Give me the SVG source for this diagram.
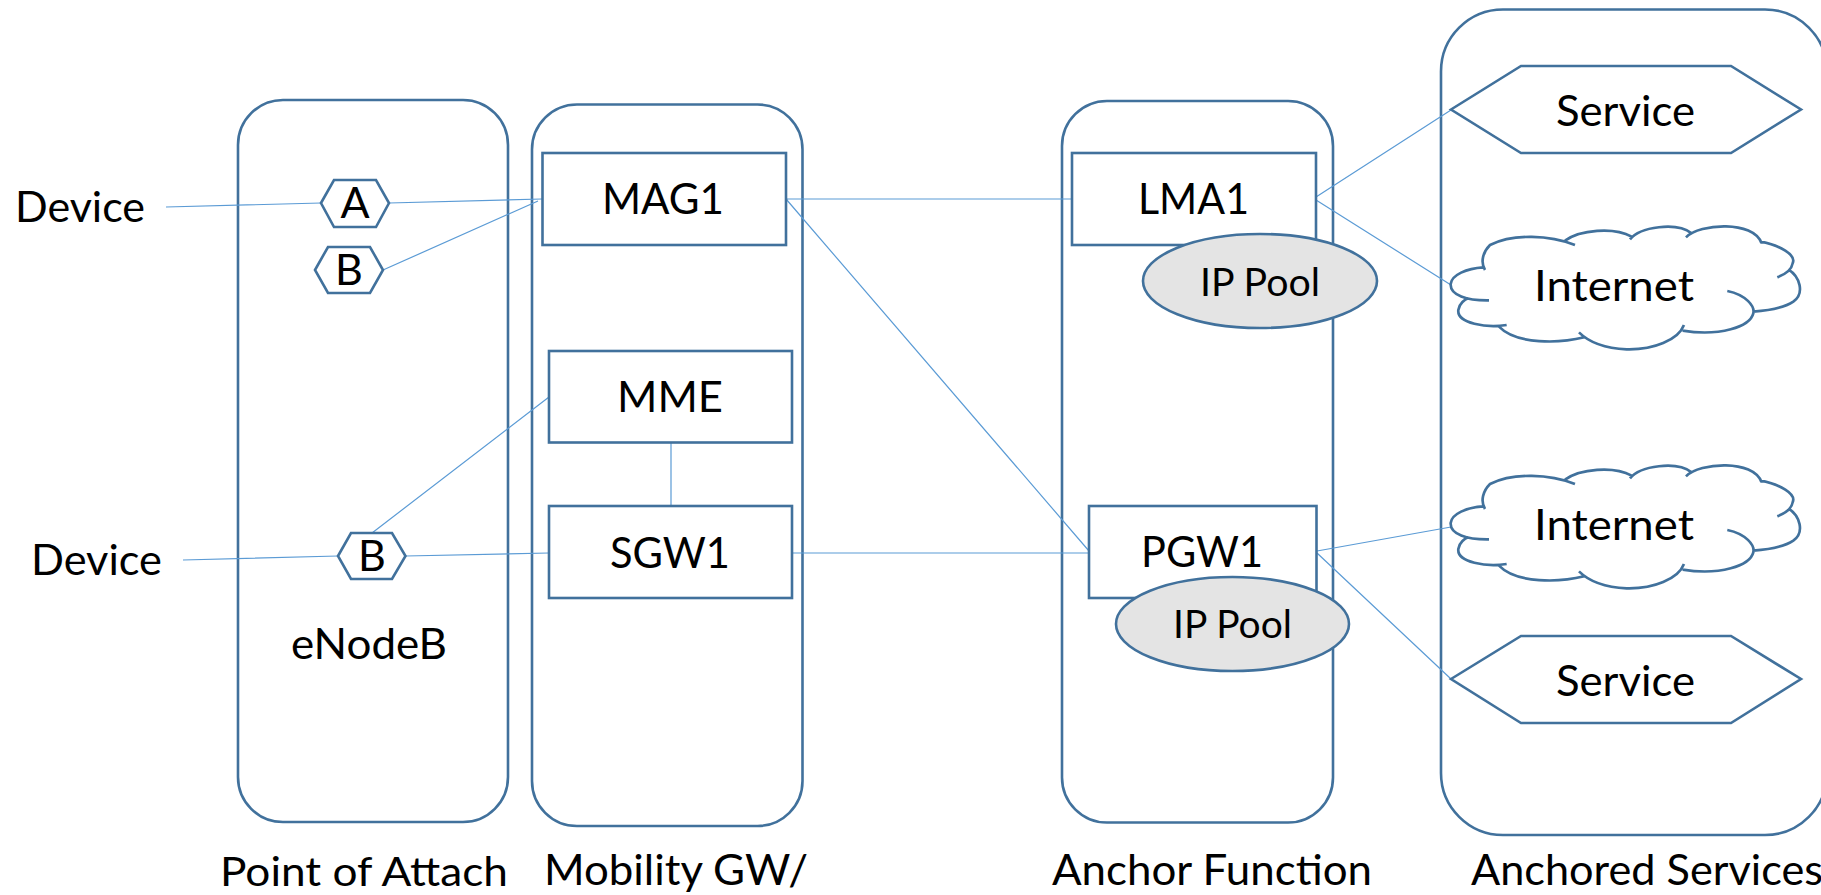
<svg xmlns="http://www.w3.org/2000/svg" width="1821" height="895" viewBox="0 0 1821 895">
<style>
.s{fill:none;stroke:#41719c;stroke-width:2.6}
.w{fill:#fff;stroke:#41719c;stroke-width:2.6}
.p{fill:#e4e4e4;stroke:#41719c;stroke-width:2.6}
.c{stroke:#5b9bd5;stroke-width:1.2;fill:none}
text{font-family:Lato,"Open Sans",sans-serif;font-size:43px;fill:#000}
.ip{font-size:38px}
.poa{font-size:41px}
</style>
<defs>
<g id="cloud" fill="none" stroke="#41719c" stroke-width="8" transform="scale(.3333)">
<path d="M255 270C240 245 250 215 270 195C340 160 450 165 525 195M495 182C540 150 640 140 695 170M690 178C720 140 830 125 875 160M858 172C900 130 1060 120 1085 190M1080 185C1140 195 1190 225 1178 250C1175 270 1150 285 1132 292M1165 268C1200 290 1215 340 1180 365C1150 385 1100 392 1060 395M982 333C1040 345 1065 380 1060 400C1050 440 960 470 848 452M852 435C835 480 760 510 680 508C620 505 570 490 537 457M553 472C480 490 350 495 297 440M320 435C260 445 170 430 175 390C178 370 195 358 205 355M267 361C200 362 150 345 152 312C155 285 200 265 250 262"/>
</g>
</defs>
<g id="containers">
<rect id="poa" class="s" x="238" y="100" width="270" height="722" rx="45"/>
<rect id="mobility" class="s" x="532" y="104.500" width="270.500" height="721.500" rx="45"/>
<rect id="anchor" class="s" x="1062" y="101" width="271" height="721.500" rx="45"/>
<rect id="services" class="s" x="1441" y="9.500" width="386" height="825.500" rx="62"/>
</g>
<g id="connectors">
<path class="c" d="M166 207L321 203M389 203L542 199M383 270L538 201M183 560L338 556M405.500 556L549 553M372 533L549 397M671 442.500V506M786 199H1072M786 199L1089 551M792 553H1089M1316 197L1451 110M1316 200L1451 285M1317 551L1451 527M1317 553L1451 679"/>
</g>
<g id="device1"><text x="15" y="222" textLength="130" lengthAdjust="spacingAndGlyphs">Device</text></g>
<g id="device2"><text x="31" y="575" textLength="131" lengthAdjust="spacingAndGlyphs">Device</text></g>
<g id="hexA"><polygon class="w" points="321,203 334,180 376,180 389,203 376,227 334,227"/><text x="355" y="218" text-anchor="middle">A</text></g>
<g id="hexB"><polygon class="w" points="315,270 328,247 370,247 383,270 370,293 328,293"/><text x="349" y="285" text-anchor="middle">B</text></g>
<g id="hexB2"><polygon class="w" points="338,556 351,533 392,533 405.500,556 392,579 351,579"/><text x="372" y="571" text-anchor="middle">B</text></g>
<g id="enodeb"><text x="291" y="659" textLength="156" lengthAdjust="spacingAndGlyphs">eNodeB</text></g>
<g id="mag1"><rect class="w" x="542.500" y="153" width="243.500" height="92"/><text x="602" y="214" textLength="122" lengthAdjust="spacingAndGlyphs">MAG1</text></g>
<g id="mme"><rect class="w" x="549" y="351" width="243" height="91.500"/><text x="617" y="412" textLength="106" lengthAdjust="spacingAndGlyphs">MME</text></g>
<g id="sgw1"><rect class="w" x="549" y="506" width="243" height="92"/><text x="610" y="568" textLength="120" lengthAdjust="spacingAndGlyphs">SGW1</text></g>
<g id="lma1"><rect class="w" x="1072" y="153" width="244" height="92"/><text x="1138" y="214" textLength="111" lengthAdjust="spacingAndGlyphs">LMA1</text></g>
<g id="pool1"><ellipse class="p" cx="1260" cy="281" rx="117" ry="47"/><text class="ip" x="1200" y="296" textLength="120" lengthAdjust="spacingAndGlyphs">IP Pool</text></g>
<g id="pgw1"><rect class="w" x="1089" y="506" width="227.500" height="92"/><text x="1141" y="567" textLength="122" lengthAdjust="spacingAndGlyphs">PGW1</text></g>
<g id="pool2"><ellipse class="p" cx="1232.500" cy="624" rx="116.500" ry="47"/><text class="ip" x="1173" y="638" textLength="119" lengthAdjust="spacingAndGlyphs">IP Pool</text></g>
<g id="service1"><polygon class="w" points="1451,109.500 1521,66 1731,66 1801,109.500 1731,153 1521,153"/><text x="1556" y="126" textLength="139" lengthAdjust="spacingAndGlyphs">Service</text></g>
<g id="internet1"><use href="#cloud" x="1400" y="180"/><text x="1534" y="301" textLength="160" lengthAdjust="spacingAndGlyphs">Internet</text></g>
<g id="internet2"><use href="#cloud" x="1400" y="419"/><text x="1534" y="540" textLength="160" lengthAdjust="spacingAndGlyphs">Internet</text></g>
<g id="service2"><polygon class="w" points="1451,679 1521,636 1731,636 1801,679 1731,723 1521,723"/><text x="1556" y="696" textLength="139" lengthAdjust="spacingAndGlyphs">Service</text></g>
<g id="labels">
<text class="poa" x="220" y="886" textLength="288" lengthAdjust="spacingAndGlyphs">Point of Attach</text>
<text x="544" y="885" textLength="264" lengthAdjust="spacingAndGlyphs">Mobility GW/</text>
<text x="1052" y="885" textLength="320" lengthAdjust="spacingAndGlyphs">Anchor Function</text>
<text x="1471" y="885" textLength="352" lengthAdjust="spacingAndGlyphs">Anchored Services</text>
</g>
</svg>
